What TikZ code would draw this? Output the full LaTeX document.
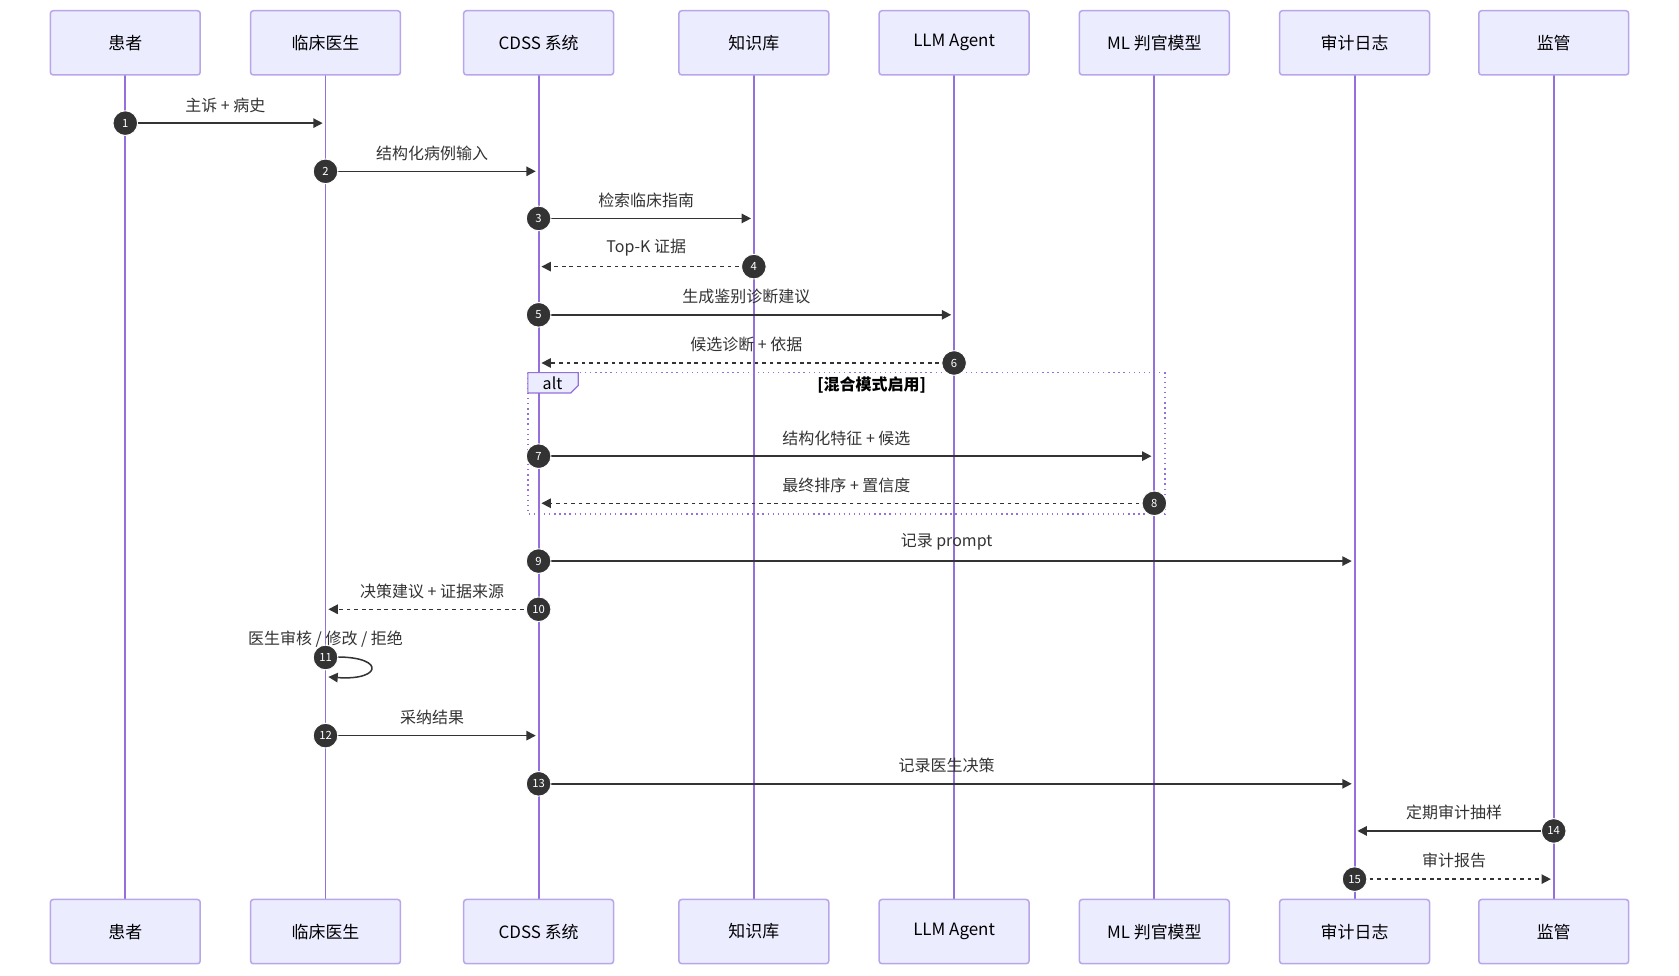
\documentclass[tikz,border=0pt]{standalone}
\usepackage{fontspec}
\setmainfont{Noto Sans CJK SC}
\usetikzlibrary{arrows.meta}
\definecolor{boxf}{HTML}{ECECFF}
\definecolor{boxd}{HTML}{B9A6EA}
\definecolor{life}{HTML}{9370DB}
\definecolor{ink}{HTML}{333333}
\begin{document}
\begin{tikzpicture}[x=0.02cm,y=-0.02cm,
  actor/.style={draw=boxd,fill=boxf,line width=0.8pt,rounded corners=1.5pt,minimum width=2.8cm,minimum height=1.2cm,font=\fontsize{9}{10}\selectfont,text=black,inner sep=0pt},
  num/.style={circle,fill=ink,draw=white,line width=0.5pt,text=white,minimum size=0.46cm,inner sep=0pt,font=\fontsize{6}{6}\selectfont},
  msg/.style={draw=ink,line width=0.8pt,-{Triangle[length=5pt,width=5pt]}},
  rep/.style={msg,dash pattern=on 2pt off 2pt},
  lbl/.style={font=\fontsize{8.5}{9}\selectfont,text=ink},
  ll/.style={draw=life,line width=1pt}]
\useasboundingbox (0,0) rectangle (1568,911);
\foreach \n/\x/\t in {p/117/患者,d/304/临床医生,c/503/CDSS 系统,k/704/知识库 / RAG,l/891/LLM Agent,m/1078/ML 判官模型,a/1265/审计日志,r/1451/监管 / 合规}{
  \coordinate (\n) at (\x,0);
  \draw[ll] (\x,70) -- (\x,840);
  \node[actor] (\n T) at (\x,40) {\t};
  \node[actor] (\n B) at (\x,870) {\t};
}
% alt box
\draw[life,line width=0.7pt,dotted] (493,348) rectangle (1088,480);
\draw[life,fill=boxf,line width=0.6pt] (493,348) -- (540,348) -- (540,360) -- (533,367) -- (493,367) -- cycle;
\node[lbl,text=black] (altl) at (516,358) {alt};
\node[lbl,text=black,font=\fontsize{8.5}{9}\selectfont\bfseries] (cond) at (814,360) {[混合模式启用]};
% messages
\foreach \i/\s/\e/\y/\st/\t in {
 1/p/d/115/msg/主诉 + 病史,
 2/d/c/160/msg/结构化病例输入,
 3/c/k/204/msg/检索临床指南 / 文献,
 4/k/c/249/rep/Top-K 证据,
 5/c/l/294/msg/生成鉴别诊断建议,
 6/l/c/339/rep/候选诊断 + 依据,
 7/c/m/426/msg/结构化特征 + 候选,
 8/m/c/470/rep/最终排序 + 置信度,
 9/c/a/524/msg/记录 prompt / 证据 / 模型版本,
 10/c/d/569/rep/决策建议 + 证据来源,
 12/d/c/687/msg/采纳结果,
 13/c/a/732/msg/记录医生决策,
 14/r/a/776/msg/主诉,
 15/a/r/821/rep/审计报告}{
  \coordinate (s\i) at ([yshift=-\y*0.02cm]\s);
  \coordinate (e\i) at ([yshift=-\y*0.02cm]\e);
}
\foreach \i/\st/\t in {1/msg/主诉 + 病史,2/msg/结构化病例输入,3/msg/检索临床指南 / 文献,4/rep/Top-K 证据,5/msg/生成鉴别诊断建议,6/rep/候选诊断 + 依据,7/msg/结构化特征 + 候选,8/rep/最终排序 + 置信度,9/msg/记录 prompt / 证据 / 模型版本,10/rep/决策建议 + 证据来源,12/msg/采纳结果,13/msg/记录医生决策,14/msg/定期审计抽样,15/rep/审计报告}{
  \draw[\st,shorten >=1.5pt] (s\i) -- (e\i) node[lbl,midway,above=2pt] {\t};
  \node[num] (n\i) at (s\i) {\i};
}
% self message 11
\coordinate (s11) at (304,614);
\coordinate (e11) at (304,632);
\draw[msg,shorten >=1.5pt] (s11) .. controls (360,610) and (360,636) .. (e11);
\node[lbl] (t11) at (304,597) {医生审核 / 修改 / 拒绝};
\node[num] (n11) at (s11) {11};
\end{tikzpicture}
\end{document}
